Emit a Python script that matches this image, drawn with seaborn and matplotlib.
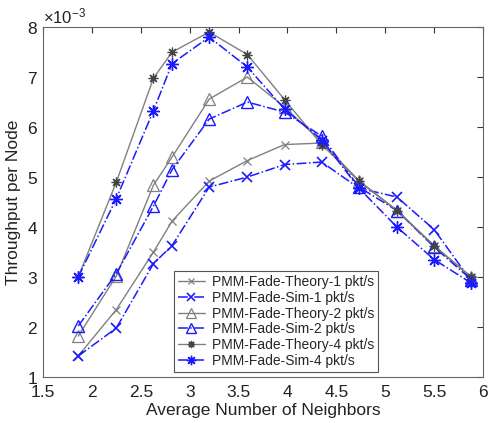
import matplotlib
matplotlib.use("Agg")
import matplotlib.pyplot as plt
import matplotlib.ticker as mticker
import seaborn as sns
import numpy as np
import pandas as pd

# ---- data (throughput values in units of 1e-3) ----
neighbors = [1.86, 2.25, 2.63, 2.82, 3.20, 3.59, 3.97, 4.35, 4.73, 5.12, 5.50, 5.88]
theory_1 = [1.42, 2.35, 3.50, 4.12, 4.92, 5.33, 5.65, 5.68, 4.92, 4.33, 3.62, 3.00]
sim_1    = [1.42, 1.98, 3.27, 3.63, 4.80, 5.00, 5.25, 5.30, 4.78, 4.60, 3.95, 2.92]
theory_2 = [1.82, 3.02, 4.84, 5.40, 6.56, 7.00, 6.40, 5.70, 4.93, 4.33, 3.62, 3.00]
sim_2    = [2.02, 3.07, 4.42, 5.15, 6.16, 6.50, 6.30, 5.82, 4.80, 4.33, 3.60, 2.95]
theory_4 = [3.00, 4.90, 6.98, 7.50, 7.90, 7.45, 6.55, 5.65, 4.92, 4.33, 3.63, 3.00]
sim_4    = [3.00, 4.57, 6.33, 7.27, 7.80, 7.20, 6.36, 5.75, 4.78, 4.00, 3.35, 2.88]
labels = ["PMM-Fade-Theory-1 pkt/s", "PMM-Fade-Sim-1 pkt/s",
          "PMM-Fade-Theory-2 pkt/s", "PMM-Fade-Sim-2 pkt/s",
          "PMM-Fade-Theory-4 pkt/s", "PMM-Fade-Sim-4 pkt/s"]
series = [theory_1, sim_1, theory_2, sim_2, theory_4, sim_4]
x_ticks = [1.5, 2, 2.5, 3, 3.5, 4, 4.5, 5, 5.5, 6]
y_ticks = [1, 2, 3, 4, 5, 6, 7, 8]

sns.set_style("white")
plt.rcParams["font.family"] = ["Liberation Sans", "DejaVu Sans"]
plt.rcParams["mathtext.fontset"] = "custom"
plt.rcParams["mathtext.rm"] = "Liberation Sans"

fig = plt.figure(figsize=(4.91, 4.23), dpi=100)
ax = fig.add_axes([0.0876, 0.1087, 0.8961, 0.8273])

gray = "#808080"
blue = "#1a1aff"
styles = [
    dict(color=gray, linestyle="-", marker="x", markersize=6, mec=gray, mew=0.9),
    dict(color=blue, linestyle="-.", marker="x", markersize=7, mec=blue, mew=1.2),
    dict(color=gray, linestyle="-", marker="^", markersize=9, mec=gray, mfc="none", mew=0.9),
    dict(color=blue, linestyle="-.", marker="^", markersize=9, mec=blue, mfc="none", mew=1.0),
    dict(color=gray, linestyle="-", marker=(8, 2, 0), markersize=7, mec="#444444", mew=0.9),
    dict(color=blue, linestyle="-.", marker=(8, 2, 0), markersize=9, mec=blue, mew=1.0),
]

for vals, lab, st in zip(series, labels, styles):
    y = np.array(vals) * 1e-3
    lw = 1.0 if st["linestyle"] == "-" else 1.1
    sns.lineplot(x=neighbors, y=y, ax=ax, label=lab, sort=False, lw=lw, **st)

ax.set_xlim(1.5, 6)
ax.set_ylim(1e-3, 8e-3)
ax.set_xticks(x_ticks)
ax.set_xticklabels([f"{v:g}" for v in x_ticks])
ax.set_yticks([v * 1e-3 for v in y_ticks])
fmt = mticker.ScalarFormatter(useMathText=True)
fmt.set_powerlimits((-2, 2))
ax.yaxis.set_major_formatter(fmt)
ax.yaxis.get_offset_text().set_fontsize(12)

ax.tick_params(direction="in", length=4, width=0.8, top=True, right=True,
               labelsize=12.5, colors="#333333", labelcolor="#222222")
ax.tick_params(axis="x", pad=6)
for sp in ax.spines.values():
    sp.set_color("#666666")
    sp.set_linewidth(0.8)

ax.set_xlabel("Average Number of Neighbors", fontsize=12.5, labelpad=2, color="#222222")
ax.set_ylabel("Throughput per Node", fontsize=12.5, labelpad=4, color="#222222")

leg = ax.legend(loc="lower left", bbox_to_anchor=(0.298, 0.015), borderaxespad=0,
                fontsize=10, markerscale=0.75,
                frameon=True, fancybox=False, edgecolor="#555555", framealpha=1,
                handlelength=1.9, labelspacing=0.12, borderpad=0.3,
                handletextpad=0.5)
leg.get_frame().set_linewidth(0.8)

fig.savefig("out.png", dpi=100)
